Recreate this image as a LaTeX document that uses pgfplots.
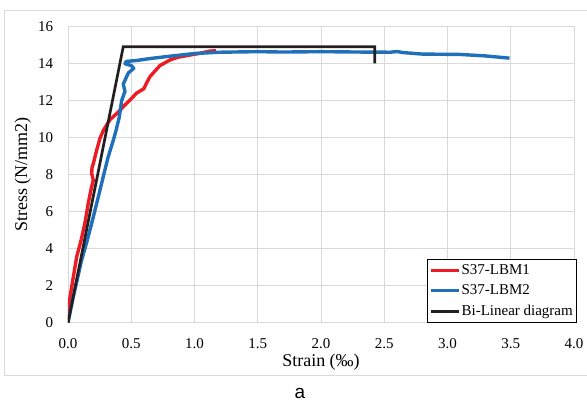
\documentclass[border=0pt]{standalone}
\usepackage{fontspec}
\setmainfont{Liberation Serif}
\newfontfamily\sansfont{Liberation Sans}
\usepackage{pgfplots}
\pgfplotsset{compat=1.18}
\definecolor{rd}{HTML}{ED1C24}
\definecolor{bl}{HTML}{1F70B8}
\definecolor{bk}{HTML}{231F20}
\definecolor{gr}{HTML}{D9D9D9}
\begin{document}
\begin{tikzpicture}[x=1pt,y=1pt]
\useasboundingbox (0,0) rectangle (587,403);
\draw[gr, line width=0.9pt] (590,393) -- (4.5,393) -- (4.5,28) -- (590,28);
\begin{axis}[
  at={(68pt,80.3pt)}, anchor=south west,
  scale only axis, width=506pt, height=296pt,
  xmin=0, xmax=4, ymin=0, ymax=16,
  xtick={0,0.5,1,1.5,2,2.5,3,3.5,4},
  ytick={0,2,4,6,8,10,12,14,16},
  grid=major, major grid style={gr, line width=0.9pt},
  axis line style={gr, line width=0.9pt},
  major tick length=0pt, tick style={draw=none},
  /pgf/number format/assume math mode=true,
  tick label style={font=\fontsize{15}{17}\selectfont, inner sep=0pt},
  xticklabel style={yshift=-15.3pt, /pgf/number format/fixed, /pgf/number format/fixed zerofill, /pgf/number format/precision=1},
  yticklabel style={xshift=-14.7pt},
  xlabel={Strain (‰)},
  xlabel style={at={(axis description cs:0.5,0)}, anchor=base, yshift=-44.3pt, font=\fontsize{18}{20}\selectfont},
  ylabel={Stress (N/mm2)},
  ylabel style={at={(axis description cs:-0.081,0.5)}, anchor=base, font=\fontsize{18}{20}\selectfont},
  legend cell align=left,
  legend image code/.code={\draw[#1, line width=2.6pt] (0pt,0pt) -- (28pt,0pt);},
  legend style={at={(axis description cs:1,0)}, anchor=south east, xshift=2.7pt,
    draw=black, line width=0.8pt, fill=white,
    font=\fontsize{15}{17}\selectfont,
    inner xsep=2pt, inner ysep=0.75pt, row sep=0pt,
    nodes={text height=11pt, text depth=3.5pt, inner ysep=3pt, inner xsep=1.5pt}},
]
\addplot[rd, line width=3.4pt, line join=round] coordinates {
(0,0) (0.016,1.4) (0.069,3.57) (0.105,4.5) (0.134,5.4) (0.16,6.45) (0.185,7.3)
(0.2,7.7) (0.187,8.07) (0.19,8.4) (0.2,8.6) (0.227,9.34) (0.253,9.97) (0.28,10.4)
(0.33,10.96) (0.4,11.4) (0.45,11.77) (0.5,12.1) (0.54,12.4) (0.6,12.65) (0.62,12.94)
(0.648,13.3) (0.674,13.5) (0.727,13.9) (0.806,14.2) (0.87,14.35) (0.91,14.4)
(1.04,14.56) (1.12,14.68) (1.17,14.7)
};
\addlegendentry{S37-LBM1}
\addplot[bl, line width=3.4pt, line join=round] coordinates {
(0,0) (0.042,1.4) (0.108,3.39) (0.15,4.4) (0.187,5.37) (0.227,6.45) (0.279,7.9)
(0.318,8.97) (0.36,9.9) (0.38,10.4) (0.405,11.1) (0.424,12.0) (0.45,12.5)
(0.437,12.9) (0.477,13.5) (0.52,13.75) (0.5,13.9) (0.45,14.0) (0.46,14.12)
(0.55,14.18) (0.65,14.28) (0.8,14.4) (1.0,14.55) (1.2,14.62) (1.5,14.65)
(1.7,14.63) (2.0,14.65) (2.3,14.63) (2.55,14.62) (2.6,14.66) (2.65,14.6)
(2.8,14.52) (3.1,14.5) (3.3,14.42) (3.49,14.3)
};
\addlegendentry{S37-LBM2}
\addplot[bk, line width=2.7pt, line join=miter] coordinates {
(0,0) (0.437,14.92) (2.425,14.92) (2.425,14.02)
};
\addlegendentry{Bi-Linear diagram}
\end{axis}
\node[font=\sansfont\fontsize{19}{21}\selectfont, anchor=base] at (300,4.5) {a};
\end{tikzpicture}
\end{document}
